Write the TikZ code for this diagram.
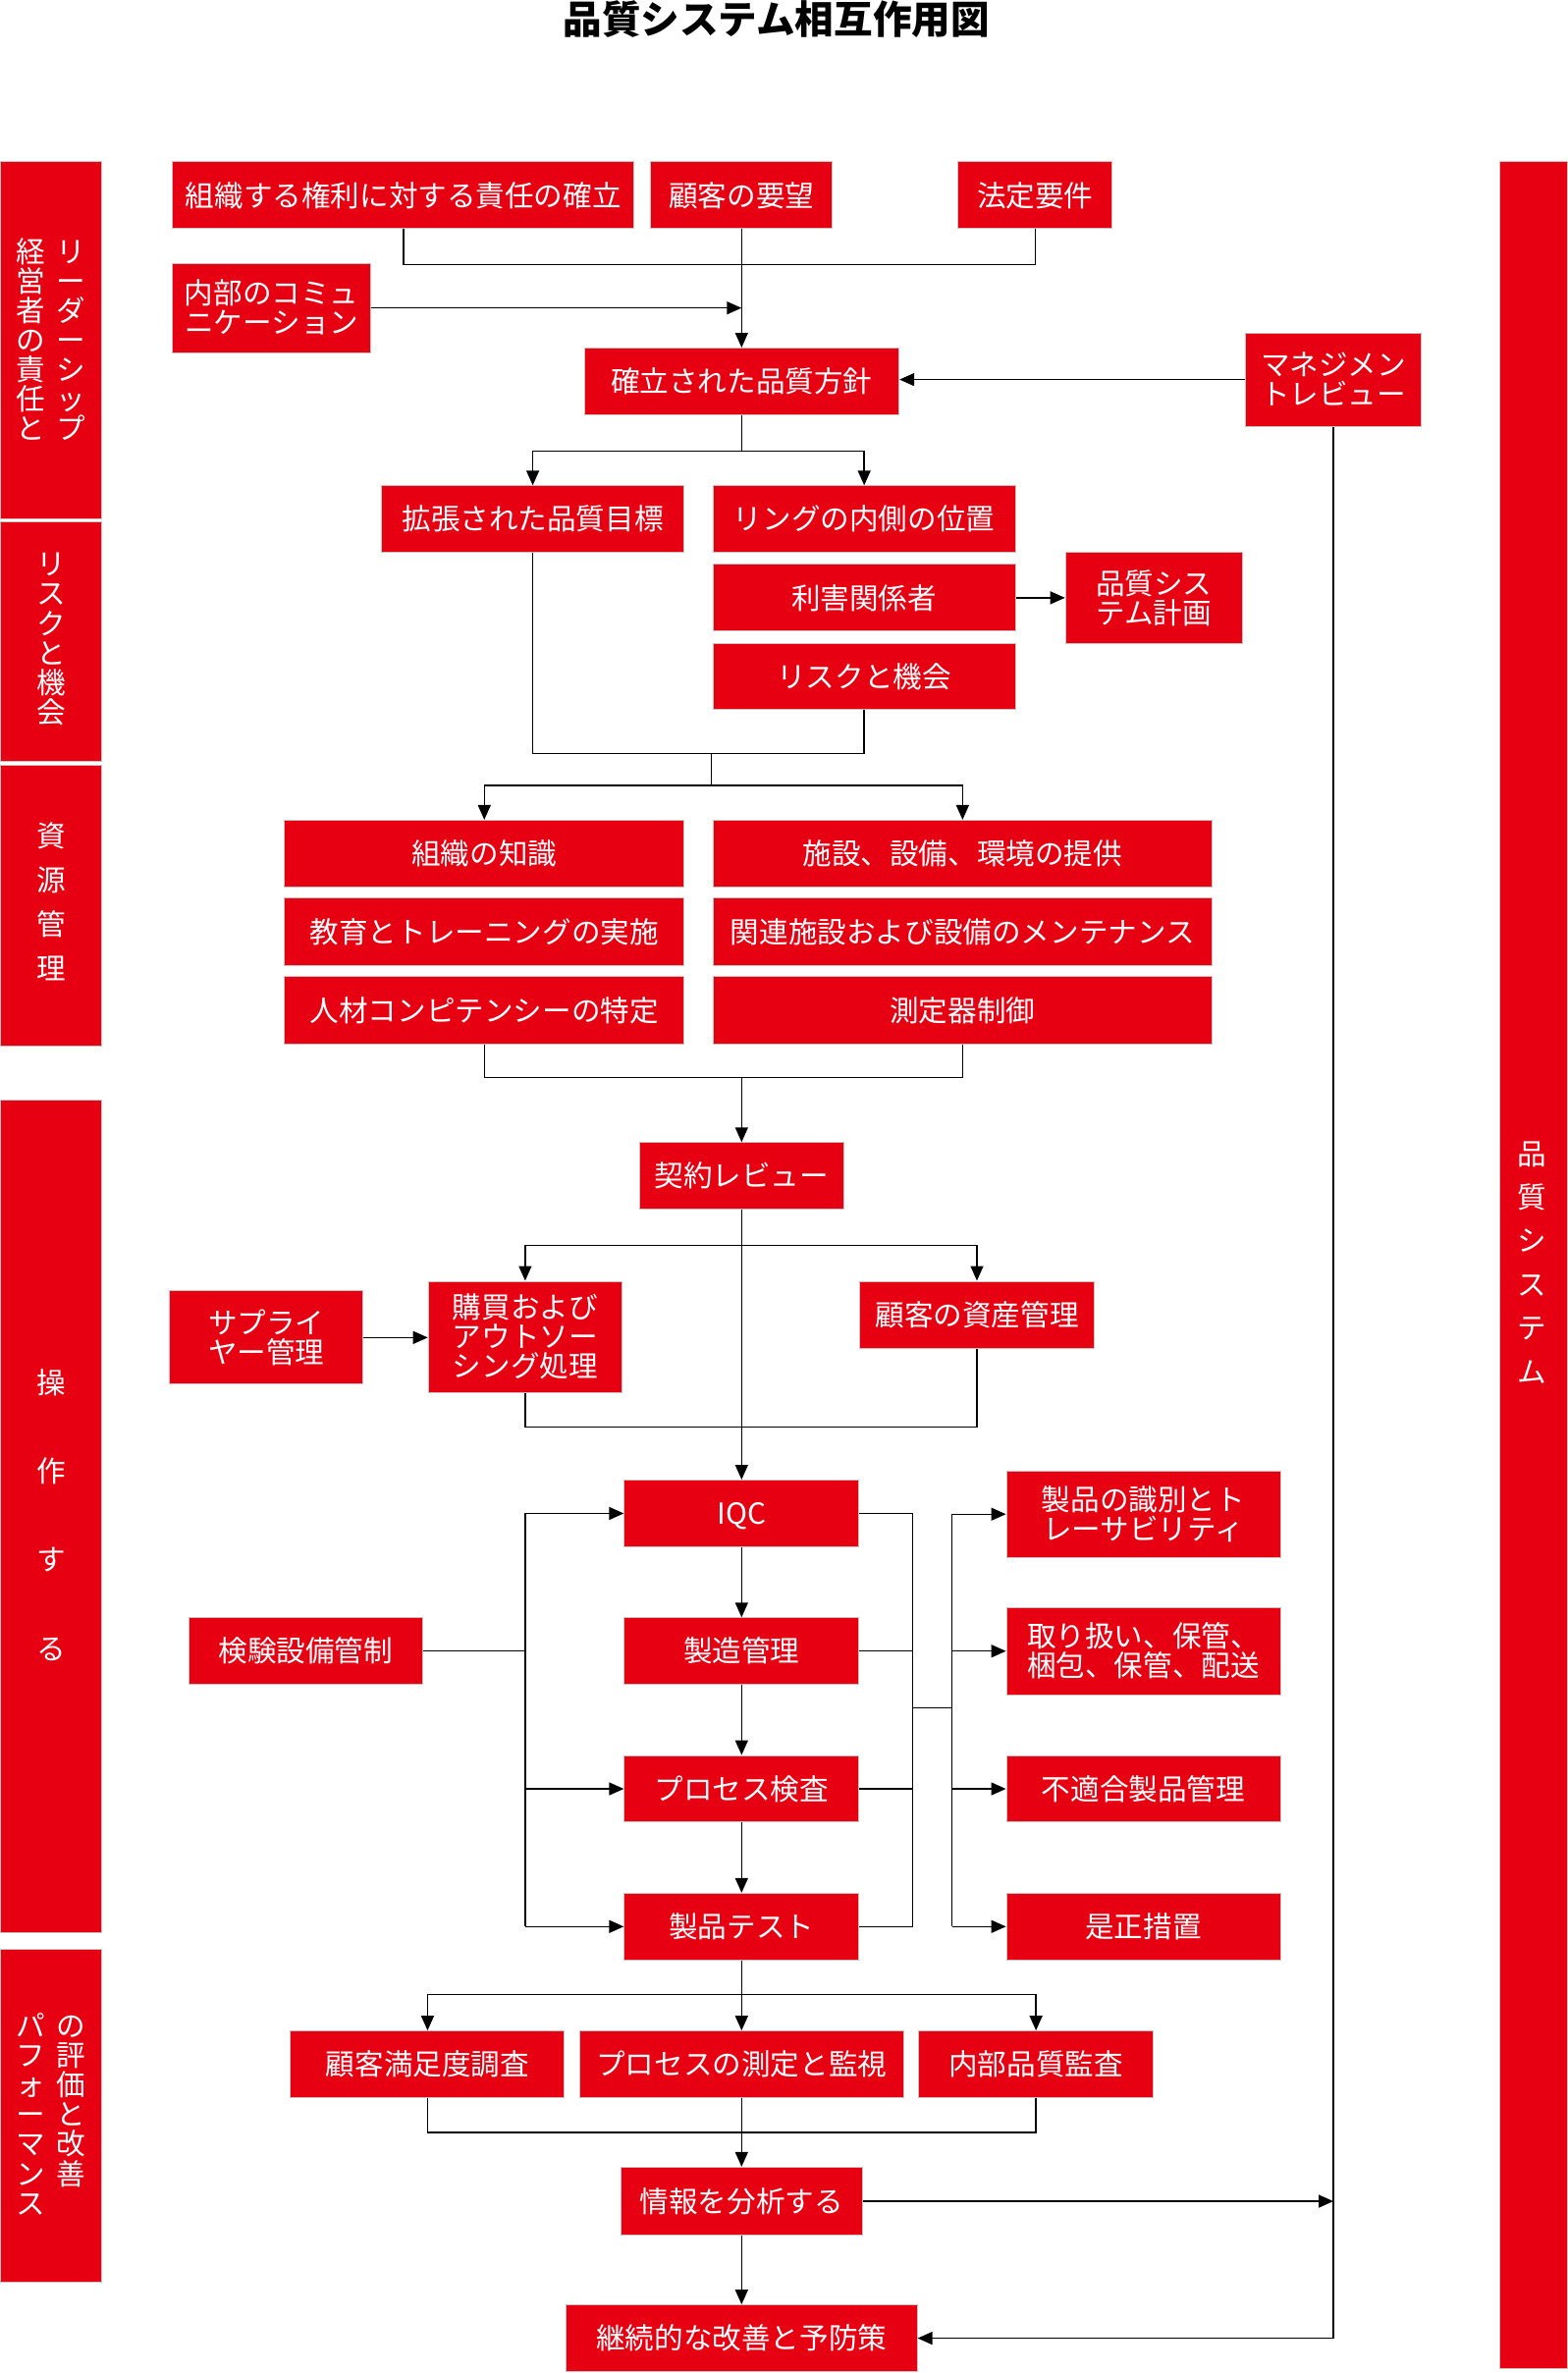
\documentclass[tikz,border=0pt]{standalone}
\usepackage{fontspec}
\setmainfont{Noto Sans CJK JP}
\usetikzlibrary{arrows.meta,fit}
\definecolor{qred}{HTML}{E60012}
\definecolor{qedge}{HTML}{C4C4C4}
\newcommand\qline[1]{\vrule height 0.887em depth 0.127em width 0pt\smash{#1}}
\newcommand\qstack[1]{\vbox{\offinterlineskip\halign{\hfil##\hfil\cr#1\crcr}}}
\tikzset{
  box/.style={fill=qred, draw=qedge, line width=0.5pt, inner sep=0pt},
  boxtxt/.style={text=white, inner sep=0pt, font=\fontsize{14.8}{15}\selectfont},
  band/.style={fill=qred, draw=qedge, line width=0.5pt, inner sep=0pt},
  vt/.style={text=white, inner sep=0pt, font=\fontsize{14.8}{15}\selectfont, text height=0.88em, text depth=0.12em},
  conn/.style={line width=0.7pt, draw=black},
  arr/.style={conn, -{Triangle[length=7.5pt,width=6.5pt]}},
}
\newcommand{\qbox}[6]{\node[box, fit={(#2,#3) (#4,#5)}] (#1) {};
  \node[boxtxt] (#1t) at (#1.center) {\qstack{#6}};}
\begin{document}
\begin{tikzpicture}[x=0.77075pt,y=-0.77075pt]
\useasboundingbox (0,0) rectangle (1036,1568);
\node[font=\fontsize{19.8}{22}\selectfont\bfseries] (title) at (513,13) {品質システム相互作用図};

% side bands
\node[band, fit={(0,107) (67,342.6)}] (L1) {};
\node[band, fit={(0,345) (67,502.8)}] (L2) {};
\node[band, fit={(0,505.4) (67,691)}] (L3) {};
\node[band, fit={(0,727) (67,1277)}] (L4) {};
\node[band, fit={(0,1288) (67,1508)}] (L5) {};
\node[band, fit={(991,107) (1036,1565)}] (R) {};

\foreach \c [count=\i] in {リ,ー,ダ,ー,シ,ッ,プ} \node[vt] (v1r\i) at (47,{168.7+19.45*(\i-1)}) {\c};
\foreach \c [count=\i] in {経,営,者,の,責,任,と} \node[vt] (v1l\i) at (20,{168.7+19.45*(\i-1)}) {\c};
\foreach \c [count=\i] in {リ,ス,ク,と,機,会} \node[vt] (v2\i) at (34,{375+19.6*(\i-1)}) {\c};
\foreach \c [count=\i] in {資,源,管,理} \node[vt] (v3\i) at (34,{554.5+29.2*(\i-1)}) {\c};
\foreach \c [count=\i] in {操,作,す,る} \node[vt] (v4\i) at (34,{916+58.5*(\i-1)}) {\c};
\foreach \c [count=\i] in {の,評,価,と,改,善} \node[vt] (v5r\i) at (47,{1341+19.5*(\i-1)}) {\c};
\foreach \c [count=\i] in {パ,フ,ォ,ー,マ,ン,ス} \node[vt] (v5l\i) at (20,{1341+19.5*(\i-1)}) {\c};
\foreach \c [count=\i] in {品,質,シ,ス,テ,ム} \node[vt] (vr\i) at (1012,{764.6+28.8*(\i-1)}) {\c};

% boxes
\qbox{b1}{114}{107}{419}{151}{\qline{組織する権利に対する責任の確立}}
\qbox{b2}{430}{107}{550}{151}{\qline{顧客の要望}}
\qbox{b3}{633}{107}{735}{151}{\qline{法定要件}}
\qbox{b4}{114}{174}{245}{233}{\qline{内部のコミュ}\cr\qline{ニケーション}}
\qbox{b5}{386}{230}{594}{274}{\qline{確立された品質方針}}
\qbox{b6}{823}{220}{939}{281.6}{\qline{マネジメン}\cr\qline{トレビュー}}
\qbox{b7}{252}{321}{452}{365}{\qline{拡張された品質目標}}
\qbox{b8}{471}{321}{671}{365}{\qline{リングの内側の位置}}
\qbox{b9}{471}{373}{671}{417}{\qline{利害関係者}}
\qbox{b10}{704}{365}{821}{425}{\qline{品質シス}\cr\qline{テム計画}}
\qbox{b11}{471}{425}{671}{469}{\qline{リスクと機会}}
\qbox{b12}{188}{542}{452}{586}{\qline{組織の知識}}
\qbox{b13}{471}{542}{801}{586}{\qline{施設、設備、環境の提供}}
\qbox{b14}{188}{593}{452}{638}{\qline{教育とトレーニングの実施}}
\qbox{b15}{471}{593}{801}{638}{\qline{関連施設および設備のメンテナンス}}
\qbox{b16}{188}{645}{452}{690}{\qline{人材コンピテンシーの特定}}
\qbox{b17}{471}{645}{801}{690}{\qline{測定器制御}}
\qbox{b18}{422.5}{755}{557.5}{799}{\qline{契約レビュー}}
\qbox{b19}{112}{853}{240}{914.6}{\qline{サプライ}\cr\qline{ヤー管理}}
\qbox{b20}{283}{846.6}{411}{920}{\qline{購買および}\cr\qline{アウトソー}\cr\qline{シング処理}}
\qbox{b21}{568}{846.6}{723}{891}{\qline{顧客の資産管理}}
\qbox{b22}{412.5}{978}{567.5}{1022}{\qline{IQC}}
\qbox{b23}{412.5}{1069}{567.5}{1113}{\qline{製造管理}}
\qbox{b24}{412.5}{1160}{567.5}{1204}{\qline{プロセス検査}}
\qbox{b25}{412.5}{1251}{567.5}{1295}{\qline{製品テスト}}
\qbox{b26}{125}{1069}{279}{1113}{\qline{検験設備管制}}
\qbox{b27}{665}{972}{846}{1029}{\qline{製品の識別とト}\cr\qline{レーサビリティ}}
\qbox{b28}{665}{1062}{846}{1120}{\qline{取り扱い、保管、}\cr\qline{梱包、保管、配送}}
\qbox{b29}{665}{1160}{846}{1204}{\qline{不適合製品管理}}
\qbox{b30}{665}{1251}{846}{1295}{\qline{是正措置}}
\qbox{b31}{192}{1342}{373}{1386}{\qline{顧客満足度調査}}
\qbox{b32}{383}{1342}{597}{1386}{\qline{プロセスの測定と監視}}
\qbox{b33}{607}{1342}{762}{1386}{\qline{内部品質監査}}
\qbox{b34}{410}{1432}{570}{1477}{\qline{情報を分析する}}
\qbox{b35}{374}{1523}{606}{1567}{\qline{継続的な改善と予防策}}

% connectors
\coordinate (j1) at (490,175);
\draw[conn] (b1.south) |- (j1) -| (b3.south);
\draw[arr] (b2.south) -- (b5.north);
\draw[arr] (b4.east) -- (b4.east -| b2.south);
\draw[arr] (b6.west) -- (b6.west -| b5.east);
\coordinate (j2) at (490,298);
\draw[conn] (b5.south) -- (j2);
\draw[arr] (j2) -| (b7.north);
\draw[arr] (j2) -| (b8.north);
\draw[arr] (b9.east) -- (b9.east -| b10.west);
\coordinate (j3) at (470,498);
\draw[conn] (b7.south) |- (j3);
\draw[conn] (b11.south) |- (j3);
\coordinate (j4) at (470,519);
\draw[conn] (j3) -- (j4);
\draw[arr] (j4) -| (b12.north);
\draw[arr] (j4) -| (b13.north);
\coordinate (j5) at (490,712);
\draw[conn] (b16.south) |- (j5);
\draw[conn] (b17.south) |- (j5);
\draw[arr] (j5) -- (b18.north);
\draw[arr] (b18.south) -- (b22.north);
\coordinate (j6) at (490,823);
\draw[arr] (j6) -| (b20.north);
\draw[arr] (j6) -| (b21.north);
\draw[arr] (b19.east) -- (b19.east -| b20.west);
\coordinate (j7) at (490,943);
\draw[conn] (b20.south) |- (j7);
\draw[conn] (b21.south) |- (j7);
\draw[arr] (b22.south) -- (b23.north);
\draw[arr] (b23.south) -- (b24.north);
\draw[arr] (b24.south) -- (b25.north);
\coordinate (lx) at (347,1091);
\draw[conn] (b26.east) -- (lx);
\draw[conn] (b22.west -| lx) -- (b25.west -| lx);
\draw[arr] (b22.west -| lx) -- (b22.west);
\draw[arr] (b24.west -| lx) -- (b24.west);
\draw[arr] (b25.west -| lx) -- (b25.west);
\coordinate (rx) at (603,1128.5);
\coordinate (rx2) at (629,1128.5);
\foreach \n in {b22,b23,b24,b25} \draw[conn] (\n.east) -- (\n.east -| rx);
\draw[conn] (b22.east -| rx) -- (b25.east -| rx);
\draw[conn] (rx) -- (rx2);
\draw[conn] (b27.west -| rx2) -- (b30.west -| rx2);
\foreach \n in {b27,b28,b29,b30} \draw[arr] (\n.west -| rx2) -- (\n.west);
\coordinate (j11) at (490,1318);
\draw[conn] (b25.south) -- (j11);
\draw[arr] (j11) -| (b31.north);
\draw[arr] (j11) -- (b32.north);
\draw[arr] (j11) -| (b33.north);
\coordinate (j12) at (490,1409);
\draw[conn] (b31.south) |- (j12);
\draw[conn] (b33.south) |- (j12);
\draw[arr] (b32.south) -- (b34.north);
\draw[arr] (b34.south) -- (b35.north);
\draw[arr] (b34.east) -- (b34.east -| b6.south);
\draw[arr] (b6.south) |- (b35.east);
\end{tikzpicture}
\end{document}
